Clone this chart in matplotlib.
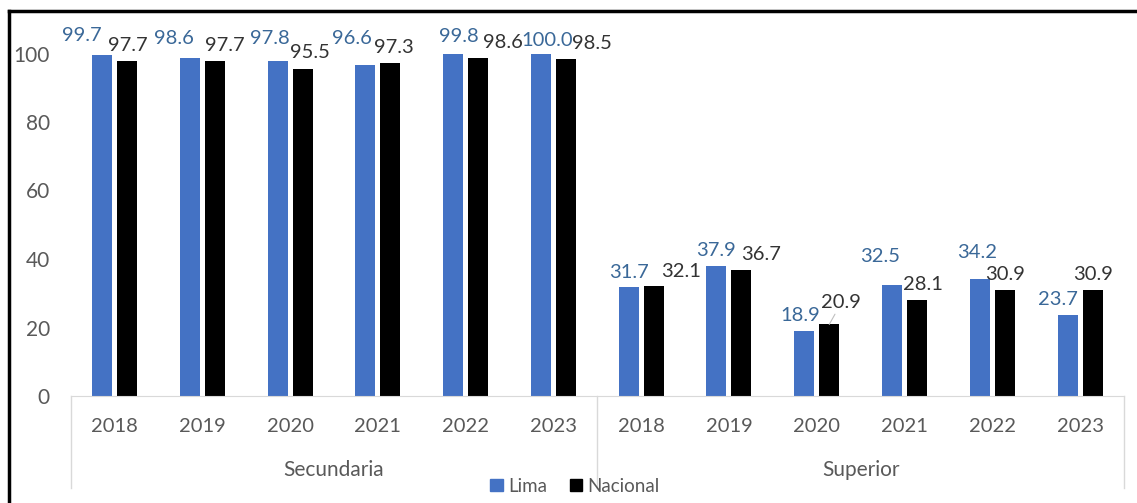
import numpy as np
import matplotlib
matplotlib.use("Agg")
import matplotlib.pyplot as plt
from matplotlib.lines import Line2D
from matplotlib.patches import Patch

# datos
years = ["2018", "2019", "2020", "2021", "2022", "2023"]
groups = ["Secundaria", "Superior"]
lima = [99.7, 98.6, 97.8, 96.6, 99.8, 100.0, 31.7, 37.9, 18.9, 32.5, 34.2, 23.7]
nacional = [97.7, 97.7, 95.5, 97.3, 98.6, 98.5, 32.1, 36.7, 20.9, 28.1, 30.9, 30.9]

# desplazamiento de etiquetas (pixeles): dx desde el centro de la barra, dy sobre la barra
lima_dx = [-20, -16, -8, -13, 6, 6, 0, 0, -4, -12, -3, -10]
lima_dy = [14, 14, 17, 21, 12, 8, 9, 10, 10, 23, 21, 10]
nac_dx = [1, 10, 7, 4, 25, 26, 27, 20, 12, 6, 0, 0]
nac_dy = [10, 10, 11, 10, 10, 10, 9, 10, 16, 10, 10, 10]

plt.rcParams["font.family"] = ["Lato", "DejaVu Sans"]
gray = "#595959"
blue = "#4472C4"
blue_txt = "#3A6898"

W, H = 1137, 503
x0, x1, y0, y100 = 70.6, 1124, 396, 53.5
fig = plt.figure(figsize=(W / 100, H / 100), dpi=100)
ax = fig.add_axes([x0 / W, 1 - y0 / H, (x1 - x0) / W, (y0 - y100) / H])

n = len(lima)
x = np.arange(n)
bw = 0.228
gap = 0.057
xl = x - bw / 2 - gap / 2
xn = x + bw / 2 + gap / 2
ax.bar(xl, lima, bw, color=blue)
ax.bar(xn, nacional, bw, color="black")

ax.set_xlim(-0.5, n - 0.5)
ax.set_ylim(0, 100)
ax.set_yticks(range(0, 101, 20))
ax.tick_params(axis="y", length=0, pad=15, labelsize=15, labelcolor=gray)
ax.set_xticks([])
for s in ["top", "right", "left"]:
    ax.spines[s].set_visible(False)
ax.spines["bottom"].set_color("#D9D9D9")

# etiquetas de datos
for i in range(n):
    ax.annotate(f"{lima[i]:.1f}", (xl[i], lima[i]),
                xytext=(lima_dx[i], lima_dy[i]), textcoords="offset pixels",
                ha="center", va="baseline", fontsize=14.5, color=blue_txt,
                annotation_clip=False)
    arrow = None
    if i == 8:
        arrow = dict(arrowstyle="-", color="#BFBFBF", lw=0.8, shrinkA=0, shrinkB=0)
    ax.annotate(f"{nacional[i]:.1f}", (xn[i], nacional[i]),
                xytext=(nac_dx[i], nac_dy[i]), textcoords="offset pixels",
                ha="center", va="baseline", fontsize=14.5, color="#333333",
                annotation_clip=False, arrowprops=arrow)

# eje de categorias en dos niveles
trans = ax.get_xaxis_transform()
px = 1 / (y0 - y100)
for i in range(n):
    ax.text(x[i], -30 * px, years[i % 6], transform=trans, ha="center", va="center",
            fontsize=14.5, color=gray)
for g in range(2):
    ax.text(g * 6 + 2.5, -74 * px, groups[g], transform=trans, ha="center", va="center",
            fontsize=15, color=gray)
for xs in [-0.5, 5.5, 11.5]:
    ax.plot([xs, xs], [0, -92 * px], transform=trans, color="#D9D9D9", lw=1, clip_on=False)

# leyenda
handles = [Patch(color=blue, label="Lima"), Patch(color="black", label="Nacional")]
fig.legend(handles=handles, loc="center", bbox_to_anchor=(575 / W, 1 - 486 / H), ncol=2,
           frameon=False, fontsize=13.5, labelcolor=gray, handlelength=0.65, handleheight=0.65,
           handletextpad=0.3, columnspacing=1.2, borderpad=0)

# marco
fig.add_artist(Line2D([9 / W, 9 / W], [0, 1 - 11 / H], color="black", lw=2.5))
fig.add_artist(Line2D([9 / W, 1], [1 - 11 / H, 1 - 11 / H], color="black", lw=2.5))

fig.savefig("out.png", dpi=100)
